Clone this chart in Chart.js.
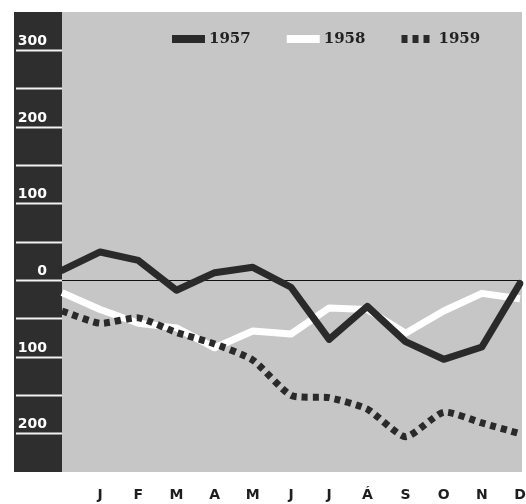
<!DOCTYPE html>
<html lang="en">
<head>
    <meta charset="UTF-8">
    <title>1957 1958 1959</title>
    <script src="https://cdn.jsdelivr.net/npm/chart.js@4.4.0/dist/chart.umd.min.js"></script>
    <style>
        body { margin: 0; background: #fff; }
        canvas { display: block; }
    </style>
</head>
<body>
    <canvas id="chart" width="526" height="504"></canvas>

    <script>
    var months = ['', 'J', 'F', 'M', 'A', 'M', 'J', 'J', 'Á', 'S', 'O', 'N', 'D'];
    var years = ['1957', '1958', '1959'];
    var v1957 = [13, 37, 26, -13, 10, 17, -9, -77, -34, -80, -103, -87, -4];
    var v1958 = [-16, -38, -56, -62, -88, -66, -70, -36, -38, -69, -40, -17, -24];
    var v1959 = [-40, -56, -49, -68, -83, -104, -150, -153, -168, -204, -172, -186, -200];
    var yMin = -250;
    var yMax = 350;

    // gray plot area + dark band behind the y labels
    var backdrop = {
        id: 'backdrop',
        beforeDraw: function(chart) {
            var ctx = chart.ctx, a = chart.chartArea;
            ctx.save();
            ctx.fillStyle = '#c6c6c6';
            ctx.fillRect(a.left, a.top, a.right - a.left + 2, a.bottom - a.top);
            ctx.fillStyle = '#2e2e2e';
            ctx.fillRect(14, a.top, a.left - 14, a.bottom - a.top);
            ctx.restore();
        }
    };

    // legend sits inside the plot, near the top
    var insideLegend = {
        id: 'insideLegend',
        afterDatasetsDraw: function(chart) {
            var ctx = chart.ctx, a = chart.chartArea;
            var y = a.top + 27;
            var x = a.left + 110;
            ctx.save();
            ctx.font = 'bold 15px "DejaVu Serif"';
            ctx.textBaseline = 'middle';
            chart.data.datasets.forEach(function(ds) {
                ctx.strokeStyle = ds.borderColor;
                ctx.lineWidth = 8;
                ctx.setLineDash(ds.borderDash || []);
                ctx.beginPath();
                ctx.moveTo(x, y);
                ctx.lineTo(x + 33, y);
                ctx.stroke();
                ctx.setLineDash([]);
                ctx.fillStyle = '#222';
                ctx.fillText(ds.label, x + 37, y);
                x += 37 + ctx.measureText(ds.label).width + 36;
            });
            ctx.restore();
        }
    };

    var ctx = document.getElementById('chart').getContext('2d');
    var myChart = new Chart(ctx, {
        type: 'line',
        data: {
            labels: months,
            datasets: [{
                label: years[0],
                data: v1957,
                borderColor: '#2a2a2a',
                borderWidth: 7,
                borderJoinStyle: 'round',
                borderCapStyle: 'round',
                pointRadius: 0,
                order: 0
            }, {
                label: years[1],
                data: v1958,
                borderColor: '#ffffff',
                borderWidth: 7,
                borderJoinStyle: 'round',
                pointRadius: 0,
                order: 2
            }, {
                label: years[2],
                data: v1959,
                borderColor: '#2a2a2a',
                borderWidth: 7,
                borderDash: [6, 5],
                tension: 0.2,
                pointRadius: 0,
                order: 1
            }]
        },
        options: {
            responsive: false,
            animation: false,
            layout: { padding: { top: 12, left: 14, right: 6, bottom: 0 } },
            plugins: {
                legend: { display: false },
                tooltip: { enabled: false }
            },
            scales: {
                x: {
                    offset: false,
                    grid: { display: false },
                    border: { display: false },
                    ticks: {
                        autoSkip: false,
                        maxRotation: 0,
                        padding: 7,
                        color: '#1e1e1e',
                        font: { family: 'DejaVu Sans', weight: 'bold', size: 14 }
                    },
                    afterFit: function(scale) {
                        scale.height = 32;
                        scale.paddingLeft = 0;
                        scale.paddingRight = 0;
                    }
                },
                y: {
                    min: yMin,
                    max: yMax,
                    border: { display: false },
                    grid: {
                        tickLength: 46,
                        lineWidth: 1,
                        tickWidth: 2,
                        color: function(c) {
                            return c.tick && c.tick.value === 0 ? '#111' : 'rgba(0,0,0,0)';
                        },
                        tickColor: function(c) {
                            var v = c.tick ? c.tick.value : 1;
                            return (v > yMin && v < yMax) ? '#f2f2f2' : 'rgba(0,0,0,0)';
                        }
                    },
                    ticks: {
                        stepSize: 50,
                        padding: -31,
                        labelOffset: -9,
                        color: '#ffffff',
                        font: { family: 'DejaVu Sans', weight: 'bold', size: 14 },
                        callback: function(v) {
                            return (v % 100 === 0) ? String(Math.abs(v)) : '';
                        }
                    },
                    afterFit: function(scale) { scale.width = 48; }
                }
            }
        },
        plugins: [backdrop, insideLegend]
    });
    </script>
</body>
</html>
